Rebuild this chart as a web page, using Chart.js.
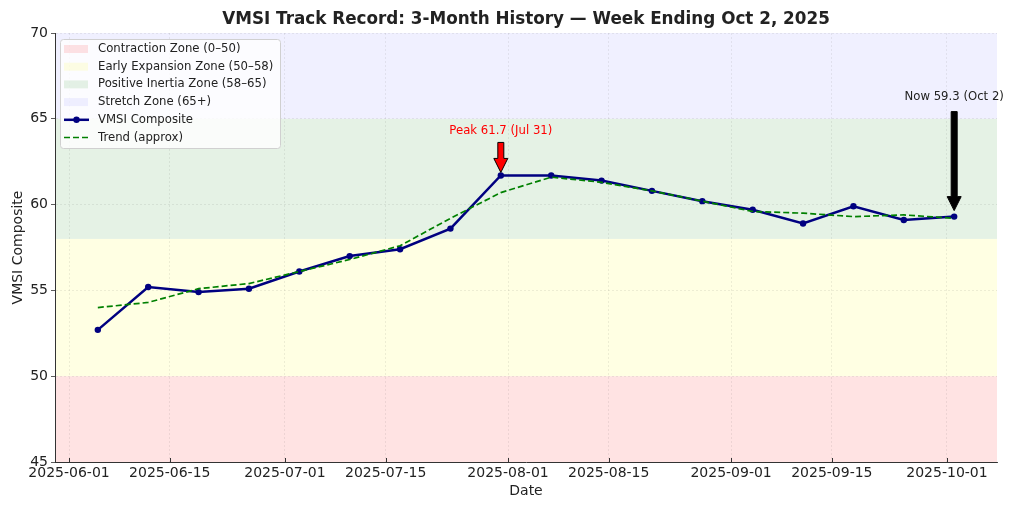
<!DOCTYPE html>
<html>
<head>
<meta charset="utf-8">
<script src="https://cdn.jsdelivr.net/npm/chart.js@4.4.1/dist/chart.umd.min.js"></script>
<style>
  body { margin: 0; background: #fff; }
  #wrap { width: 1024px; height: 512px; }
</style>
</head>
<body>
<div id="wrap"><canvas id="chart"></canvas></div>
<script>
// Weekly readings (Thursdays)
const weekDates = ['2025-06-05', '2025-06-12', '2025-06-19', '2025-06-26', '2025-07-03', '2025-07-10',
    '2025-07-17', '2025-07-24', '2025-07-31', '2025-08-07', '2025-08-14', '2025-08-21',
    '2025-08-28', '2025-09-04', '2025-09-11', '2025-09-18', '2025-09-25', '2025-10-02'];
const vmsiValues = [52.7, 55.2, 54.9, 55.1, 56.1, 57.0, 57.4, 58.6, 61.7, 61.7, 61.4, 60.8,
    60.2, 59.7, 58.9, 59.9, 59.1, 59.3];
const trendValues = [54.0, 54.3, 55.1, 55.4, 56.1, 56.8, 57.6, 59.2, 60.7, 61.6, 61.3, 60.8,
    60.2, 59.6, 59.5, 59.3, 59.4, 59.2];

// Tick labels on the date axis
const xTickDates = ['2025-06-01', '2025-06-15', '2025-07-01', '2025-07-15', '2025-08-01',
    '2025-08-15', '2025-09-01', '2025-09-15', '2025-10-01'];
const yTicks = [45, 50, 55, 60, 65, 70];

// Zones: label, from, to, colour
const zoneLabels = ['Contraction Zone (0–50)', 'Early Expansion Zone (50–58)', 'Positive Inertia Zone (58–65)', 'Stretch Zone (65+)'];
const zoneFrom = [0, 50, 58, 65];
const zoneTo = [50, 58, 65, 100];
const zoneColors = ['rgba(255,0,0,0.11)', 'rgba(255,255,0,0.11)', 'rgba(0,128,0,0.10)', 'rgba(0,0,255,0.06)'];

const chartTitle = 'VMSI Track Record: 3-Month History — Week Ending Oct 2, 2025';
const peakIndex = 8;
const nowIndex = 17;

const FONT = "'DejaVu Sans', sans-serif";
const TEXT = '#222';

// date string -> days since epoch
function toDay(s) {
    const p = s.split('-').map(Number);
    return Date.UTC(p[0], p[1] - 1, p[2]) / 86400000;
}
function fromDay(d) {
    return new Date(Math.round(d) * 86400000).toISOString().split('T')[0];
}

const firstDay = toDay(weekDates[0]);
const lastDay = toDay(weekDates[weekDates.length - 1]);
const margin = (lastDay - firstDay) * 0.05;

const vmsiPoints = weekDates.map((d, i) => ({ x: toDay(d), y: vmsiValues[i] }));
const trendPoints = weekDates.map((d, i) => ({ x: toDay(d), y: trendValues[i] }));

// Zones drawn behind the grid
const zonePlugin = {
    id: 'zones',
    beforeDraw(chart) {
        const { ctx, chartArea, scales } = chart;
        ctx.save();
        for (let i = 0; i < zoneFrom.length; i++) {
            const top = Math.max(scales.y.getPixelForValue(zoneTo[i]), chartArea.top);
            const bottom = Math.min(scales.y.getPixelForValue(zoneFrom[i]), chartArea.bottom);
            if (bottom <= top) continue;
            ctx.fillStyle = zoneColors[i];
            ctx.fillRect(chartArea.left, top, chartArea.right - chartArea.left, bottom - top);
        }
        ctx.restore();
    }
};

function drawDownArrow(ctx, x, yTop, yTip, fill) {
    const shaft = 3, head = 7, headLen = 14;
    ctx.beginPath();
    ctx.moveTo(x - shaft, yTop);
    ctx.lineTo(x + shaft, yTop);
    ctx.lineTo(x + shaft, yTip - headLen);
    ctx.lineTo(x + head, yTip - headLen);
    ctx.lineTo(x, yTip);
    ctx.lineTo(x - head, yTip - headLen);
    ctx.lineTo(x - shaft, yTip - headLen);
    ctx.closePath();
    ctx.fillStyle = fill;
    ctx.fill();
    ctx.lineWidth = 1;
    ctx.strokeStyle = '#000';
    ctx.stroke();
}

// Title, inward x ticks, annotations and legend on top
const overlayPlugin = {
    id: 'overlay',
    afterDraw(chart) {
        const { ctx, scales, chartArea } = chart;
        ctx.save();

        // Title centred over the plot area
        ctx.font = 'bold 16.8px ' + FONT;
        ctx.fillStyle = TEXT;
        ctx.textAlign = 'center';
        ctx.textBaseline = 'middle';
        ctx.fillText(chartTitle, (chartArea.left + chartArea.right) / 2, 19.5);

        // x tick marks pointing into the plot
        ctx.strokeStyle = '#333';
        ctx.lineWidth = 1;
        scales.x.ticks.forEach(t => {
            const x = Math.round(scales.x.getPixelForValue(t.value)) + 0.5;
            ctx.beginPath();
            ctx.moveTo(x, chartArea.bottom);
            ctx.lineTo(x, chartArea.bottom - 4);
            ctx.stroke();
        });

        // Peak annotation
        const px = scales.x.getPixelForValue(toDay(weekDates[peakIndex]));
        const py = scales.y.getPixelForValue(vmsiValues[peakIndex]);
        drawDownArrow(ctx, px, py - 33, py - 3, 'red');
        ctx.font = '11.7px ' + FONT;
        ctx.fillStyle = 'red';
        ctx.textAlign = 'center';
        ctx.textBaseline = 'middle';
        ctx.fillText('Peak ' + vmsiValues[peakIndex].toFixed(1) + ' (Jul 31)', px, py - 44);

        // Now annotation
        const nx = scales.x.getPixelForValue(toDay(weekDates[nowIndex]));
        const ny = scales.y.getPixelForValue(vmsiValues[nowIndex]);
        drawDownArrow(ctx, nx, ny - 105, ny - 6, '#000');
        ctx.fillStyle = TEXT;
        ctx.fillText('Now ' + vmsiValues[nowIndex].toFixed(1) + ' (Oct 2)', nx, ny - 120);

        // Legend box
        const lx = 60, ly = 39, lw = 220, lh = 109;
        ctx.fillStyle = 'rgba(255,255,255,0.8)';
        ctx.strokeStyle = '#d0d0d0';
        ctx.lineWidth = 1;
        ctx.beginPath();
        ctx.roundRect(lx + 0.5, ly + 0.5, lw, lh, 3);
        ctx.fill();
        ctx.stroke();

        ctx.textAlign = 'left';
        ctx.textBaseline = 'middle';
        const rowH = 17.7;
        const names = zoneLabels.concat(['VMSI Composite', 'Trend (approx)']);
        names.forEach((name, i) => {
            const cy = ly + 10 + i * rowH;
            if (i < zoneColors.length) {
                ctx.fillStyle = zoneColors[i];
                ctx.fillRect(lx + 4, cy - 4, 24, 8);
            } else if (i === 4) {
                ctx.strokeStyle = 'navy';
                ctx.lineWidth = 2.5;
                ctx.setLineDash([]);
                ctx.beginPath();
                ctx.moveTo(lx + 4, cy);
                ctx.lineTo(lx + 29, cy);
                ctx.stroke();
                ctx.fillStyle = 'navy';
                ctx.beginPath();
                ctx.arc(lx + 16.5, cy, 3.2, 0, Math.PI * 2);
                ctx.fill();
            } else {
                ctx.strokeStyle = 'green';
                ctx.lineWidth = 1.7;
                ctx.setLineDash([6, 3]);
                ctx.beginPath();
                ctx.moveTo(lx + 4, cy);
                ctx.lineTo(lx + 29, cy);
                ctx.stroke();
                ctx.setLineDash([]);
            }
            ctx.fillStyle = TEXT;
            ctx.font = '11.7px ' + FONT;
            ctx.fillText(name, lx + 38, cy);
        });
        ctx.restore();
    }
};

const ctx = document.getElementById('chart').getContext('2d');
new Chart(ctx, {
    type: 'line',
    data: {
        datasets: [{
            label: 'VMSI Composite',
            data: vmsiPoints,
            borderColor: 'navy',
            backgroundColor: 'navy',
            borderWidth: 2.5,
            pointRadius: 3.2,
            pointBackgroundColor: 'navy',
            pointBorderWidth: 0,
            tension: 0,
            order: 1
        }, {
            label: 'Trend (approx)',
            data: trendPoints,
            borderColor: 'green',
            borderWidth: 1.7,
            borderDash: [6, 3],
            pointRadius: 0,
            tension: 0,
            order: 0
        }]
    },
    options: {
        responsive: true,
        maintainAspectRatio: false,
        animation: false,
        layout: { padding: { left: 0, right: 27, top: 33, bottom: 0 } },
        plugins: {
            legend: { display: false },
            tooltip: { enabled: false },
            title: { display: false }
        },
        scales: {
            x: {
                type: 'linear',
                min: firstDay - margin,
                max: lastDay + margin,
                afterBuildTicks: scale => {
                    scale.ticks = xTickDates.map(d => ({ value: toDay(d) }));
                },
                afterFit: scale => { scale.height = 50; },
                ticks: {
                    autoSkip: false,
                    maxRotation: 0,
                    padding: 3,
                    color: TEXT,
                    font: { family: FONT, size: 14 },
                    callback: value => fromDay(value)
                },
                grid: {
                    color: 'rgba(0,0,0,0.09)',
                    lineWidth: 0.8,
                    drawTicks: false
                },
                border: { display: true, color: '#333', width: 1, dash: [2, 2] },
                title: {
                    display: true,
                    text: 'Date',
                    color: TEXT,
                    font: { family: FONT, size: 14 },
                    padding: { top: 0, bottom: 12 }
                }
            },
            y: {
                min: 45,
                max: 70,
                afterBuildTicks: scale => {
                    scale.ticks = yTicks.map(v => ({ value: v }));
                },
                afterFit: scale => { scale.width = 55; },
                ticks: {
                    padding: 3,
                    color: TEXT,
                    font: { family: FONT, size: 14 }
                },
                grid: {
                    color: 'rgba(0,0,0,0.09)',
                    lineWidth: 0.8,
                    tickLength: 4,
                    tickColor: '#333',
                    tickBorderDash: []
                },
                border: { display: true, color: '#333', width: 1, dash: [2, 2] },
                title: {
                    display: true,
                    text: 'VMSI Composite',
                    color: TEXT,
                    font: { family: FONT, size: 14 },
                    padding: { top: 10, bottom: 0 }
                }
            }
        }
    },
    plugins: [zonePlugin, overlayPlugin]
});
</script>
</body>
</html>
